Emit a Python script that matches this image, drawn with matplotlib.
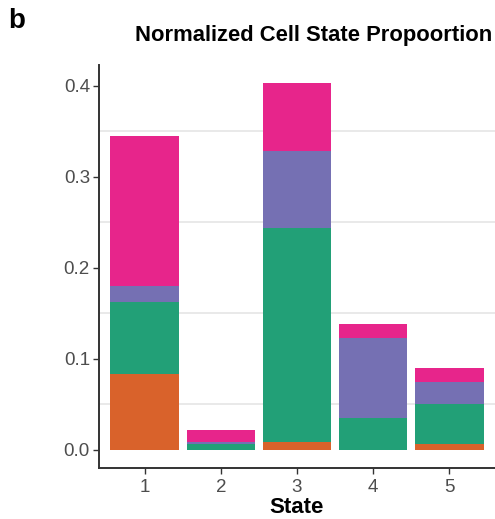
import matplotlib
matplotlib.use("Agg")
import matplotlib.pyplot as plt
import numpy as np

plt.rcParams['font.family'] = ['Liberation Sans', 'DejaVu Sans']

states = ["1", "2", "3", "4", "5"]
orange = [0.0836, 0.0, 0.0090, 0.0, 0.0069]
green = [0.0788, 0.0062, 0.2347, 0.0355, 0.0433]
purple = [0.0183, 0.0031, 0.0844, 0.0873, 0.0250]
pink = [0.1647, 0.0122, 0.0748, 0.0151, 0.0154]

series = [orange, green, purple, pink]
colors = ["#D9622B", "#22A077", "#7570B3", "#E7258B"]

yticks = [0.0, 0.1, 0.2, 0.3, 0.4]
ytick_labels = ["0.0", "0.1", "0.2", "0.3", "0.4"]
grid_levels = [0.05, 0.15, 0.25, 0.35]

fig = plt.figure(figsize=(4.95, 5.19), dpi=100)
ax = fig.add_axes([99/495, 1-468.3/519, (495-99)/495, (468.3-65)/519])

x = np.arange(1, len(states)+1)
bottom = np.zeros(len(states))
for vals, c in zip(series, colors):
    v = np.array(vals)
    ax.bar(x, v, width=0.9, bottom=bottom, color=c, zorder=2, linewidth=0)
    bottom += v

for g in grid_levels:
    ax.axhline(g, color="#e3e3e3", linewidth=1.1, zorder=1)

top = bottom.max()
ax.set_ylim(-0.05*top, top*1.05)
ax.set_xlim(0.4, 5.6)
ax.set_xticks(x)
ax.set_xticklabels(states)
ax.set_yticks(yticks)
ax.set_yticklabels(ytick_labels)

for s in ["top", "right"]:
    ax.spines[s].set_visible(False)
for s in ["left", "bottom"]:
    ax.spines[s].set_color("#333333")
    ax.spines[s].set_linewidth(1.4)

ax.tick_params(axis="both", colors="#333333", labelcolor="#4d4d4d", labelsize=13.5,
               length=4.5, width=1.0)
ax.tick_params(axis="x", pad=3)
ax.tick_params(axis="y", pad=2)

ax.set_xlabel("State", fontsize=16, fontweight="bold", labelpad=1)

fig.text(492/495, 1-41/519, "Normalized Cell State Propoortion", ha="right",
         va="baseline", fontsize=15.8, fontweight="bold")
fig.text(8/495, 1-28/519, "b", ha="left", va="baseline", fontsize=20, fontweight="bold")

fig.savefig("out.png", dpi=100)
